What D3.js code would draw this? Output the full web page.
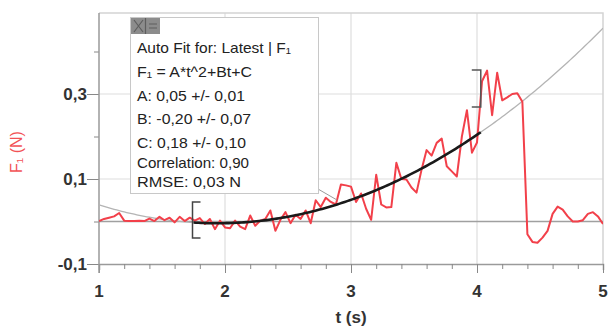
<!DOCTYPE html>
<html>
<head>
<meta charset="utf-8">
<script src="https://cdn.jsdelivr.net/npm/d3@7"></script>
<style>
  body { margin: 0; background: #fff; }
  svg { display: block; font-family: "Liberation Sans", Arial, sans-serif; }
</style>
</head>
<body>
<svg id="chart" width="610" height="326"></svg>
<script>
// sensor readings, one every 0.04 s from t = 1 s
const t0 = 1;
const dt = 0.04;
const force = [
  0.001, 0.006, 0.009, 0.012, 0.020, 0.002, 0.001, 0.001, 0.002, 0.001,
  0.007, 0.001, 0.011, 0.003, 0.009, -0.002, 0.011, 0.001, 0.009, 0.002,
  0.008, -0.006, 0.006, -0.018, 0.002, -0.014, -0.016, 0.002, -0.012, -0.018,
  0.014, -0.010, 0.002, 0.006, 0.026, -0.022, 0.004, 0.022, -0.004, 0.016,
  0.006, 0.026, -0.004, 0.050, 0.034, 0.056, 0.046, 0.040, 0.087, 0.085,
  0.082, 0.046, 0.066, 0.030, 0.004, 0.110, 0.040, 0.033, 0.034, 0.138,
  0.100, 0.099, 0.080, 0.068, 0.122, 0.168, 0.155, 0.185, 0.195, 0.130,
  0.118, 0.106, 0.200, 0.262, 0.162, 0.186, 0.330, 0.355, 0.250, 0.350,
  0.285, 0.292, 0.300, 0.302, 0.282, -0.030, -0.048, -0.050, -0.038, -0.022,
  0.018, 0.035, 0.028, 0.012, 0.000, 0.000, 0.003, 0.018, 0.022, 0.012,
  -0.006
];

// fit: A*t^2 + B*t + C, as drawn on screen
const fitCoef = [0.049, -0.19, 0.18];
const fitRange = [1.75, 4.03];

const xTicks = [1, 2, 3, 4, 5];
const yTicks = [-0.1, 0.1, 0.3];
const yMinor = [0, 0.2, 0.4];

const fitLines = [
  "Auto Fit for: Latest | F\u2081",
  "F\u2081 = A*t^2+Bt+C",
  "A: 0,05 +/- 0,01",
  "B: -0,20 +/- 0,07",
  "C: 0,18 +/- 0,10",
  "Correlation: 0,90",
  "RMSE: 0,03 N"
];

const svg = d3.select("#chart");
const pLeft = 99, pRight = 603, pTop = 13, pBottom = 264;

const x = d3.scaleLinear().domain([1, 5]).range([pLeft, pRight]);
const y = d3.scaleLinear().domain([-0.1, 0.3]).range([pBottom, 94]);

const pts = force.map((v, i) => [t0 + i * dt, v]);
const fit = t => fitCoef[0] * t * t + fitCoef[1] * t + fitCoef[2];

svg.append("clipPath").attr("id", "clip")
  .append("rect").attr("x", pLeft).attr("y", pTop)
  .attr("width", pRight - pLeft).attr("height", pBottom - pTop);

// grid
svg.append("g").selectAll("line").data([2, 3, 4]).join("line")
  .attr("x1", d => x(d)).attr("x2", d => x(d))
  .attr("y1", pTop).attr("y2", pBottom)
  .attr("stroke", "#dedede").attr("stroke-width", 1.2);
svg.append("g").selectAll("line").data([0.1, 0.3]).join("line")
  .attr("x1", pLeft).attr("x2", pRight)
  .attr("y1", d => y(d)).attr("y2", d => y(d))
  .attr("stroke", "#dedede").attr("stroke-width", 1.2);

// frame top / right
svg.append("path")
  .attr("d", `M${pLeft},${pTop}H${pRight}V${pBottom}`)
  .attr("fill", "none").attr("stroke", "#d4d4d4").attr("stroke-width", 1.5);

// zero line
svg.append("line")
  .attr("x1", pLeft).attr("x2", pRight)
  .attr("y1", y(0)).attr("y2", y(0))
  .attr("stroke", "#a0a0a0").attr("stroke-width", 1.6);

// axes
const xAxis = svg.append("g")
  .attr("transform", `translate(0,${pBottom})`)
  .call(d3.axisBottom(x).tickValues(d3.range(1, 5.001, 0.2)).tickSize(6).tickFormat(""));
xAxis.select(".domain").attr("stroke", "#9a9a9a").attr("stroke-width", 1.5);
xAxis.selectAll(".tick line").attr("stroke", "#888")
  .attr("y2", d => (Math.abs(d - Math.round(d)) < 1e-6 ? 9 : 5));

svg.append("g").selectAll("text").data(xTicks).join("text")
  .attr("x", d => x(d)).attr("y", 297)
  .attr("text-anchor", "middle")
  .attr("font-size", 17).attr("font-weight", "bold").attr("fill", "#333")
  .text(d => d);

const yAxis = svg.append("g")
  .attr("transform", `translate(${pLeft},0)`)
  .call(d3.axisLeft(y).tickValues(yTicks.concat(yMinor)).tickSize(12).tickFormat(""));
yAxis.select(".domain").remove();
yAxis.selectAll(".tick line").attr("stroke", "#888")
  .attr("x2", d => (yMinor.includes(d) ? -5 : -12));
svg.append("line")
  .attr("x1", pLeft).attr("x2", pLeft).attr("y1", pTop).attr("y2", pBottom + 9)
  .attr("stroke", "#9a9a9a").attr("stroke-width", 1.5);

svg.append("g").selectAll("text").data(yTicks).join("text")
  .attr("x", 87).attr("y", d => y(d) + 6)
  .attr("text-anchor", "end")
  .attr("font-size", 17).attr("font-weight", "bold").attr("fill", "#333")
  .text(d => d3.format(".1f")(d).replace("\u2212", "-").replace(".", ","));

// axis titles
svg.append("text")
  .attr("x", x(3)).attr("y", 323)
  .attr("text-anchor", "middle")
  .attr("font-size", 17).attr("font-weight", "bold").attr("fill", "#333")
  .text("t (s)");
svg.append("text")
  .attr("transform", "translate(22,152) rotate(-90)")
  .attr("text-anchor", "middle")
  .attr("font-size", 16).attr("fill", "#f25256")
  .text("F\u2081 (N)");

const plot = svg.append("g").attr("clip-path", "url(#clip)");

// full fit curve (grey)
const tAll = d3.range(1, 5.0001, 0.02);
plot.append("path")
  .datum(tAll)
  .attr("fill", "none").attr("stroke", "#b4b4b4").attr("stroke-width", 1.3)
  .attr("d", d3.line().x(d => x(d)).y(d => y(fit(d))));

// data
plot.append("path")
  .datum(pts)
  .attr("fill", "none").attr("stroke", "#f2404a").attr("stroke-width", 2)
  .attr("stroke-linejoin", "round")
  .attr("d", d3.line().x(d => x(d[0])).y(d => y(d[1])));

// fitted section (black)
const tFit = d3.range(fitRange[0], fitRange[1] + 0.0001, 0.02);
plot.append("path")
  .datum(tFit)
  .attr("fill", "none").attr("stroke", "#1a1a1a").attr("stroke-width", 2.6)
  .attr("d", d3.line().x(d => x(d)).y(d => y(fit(d))));

// range brackets
const bx0 = x(fitRange[0]) - 1, bx1 = x(fitRange[1]);
svg.append("path")
  .attr("d", `M${bx0 + 8},202H${bx0}V238H${bx0 + 8}`)
  .attr("fill", "none").attr("stroke", "#444").attr("stroke-width", 1.5);
svg.append("path")
  .attr("d", `M${bx1 - 9},70H${bx1}V107H${bx1 - 9}`)
  .attr("fill", "none").attr("stroke", "#555").attr("stroke-width", 1.5);

// fit info box
svg.append("line")
  .attr("x1", 318).attr("y1", 189).attr("x2", 337).attr("y2", 200)
  .attr("stroke", "#9a9a9a").attr("stroke-width", 1);
svg.append("rect")
  .attr("x", 130.5).attr("y", 17.5).attr("width", 188).attr("height", 176)
  .attr("fill", "#fff").attr("stroke", "#c8c8c8").attr("stroke-width", 1);

const icon = svg.append("g");
icon.append("rect").attr("x", 131).attr("y", 18).attr("width", 29).attr("height", 16)
  .attr("fill", "#8c8c8c");
icon.append("path")
  .attr("d", "M134,20L143,32M143,20L134,32M145.5,18V34M149,24H157M149,28H157")
  .attr("stroke", "#5e5e5e").attr("stroke-width", 1.2);

svg.append("g").selectAll("text").data(fitLines).join("text")
  .attr("x", 137)
  .attr("y", (d, i) => [53, 77, 101, 124, 148, 168, 187][i])
  .attr("font-size", 15).attr("fill", "#222")
  .attr("textLength", (d, i) => [154, 115, 108, 114, 109, 112, 104][i])
  .attr("lengthAdjust", "spacingAndGlyphs")
  .text(d => d);
</script>
</body>
</html>
